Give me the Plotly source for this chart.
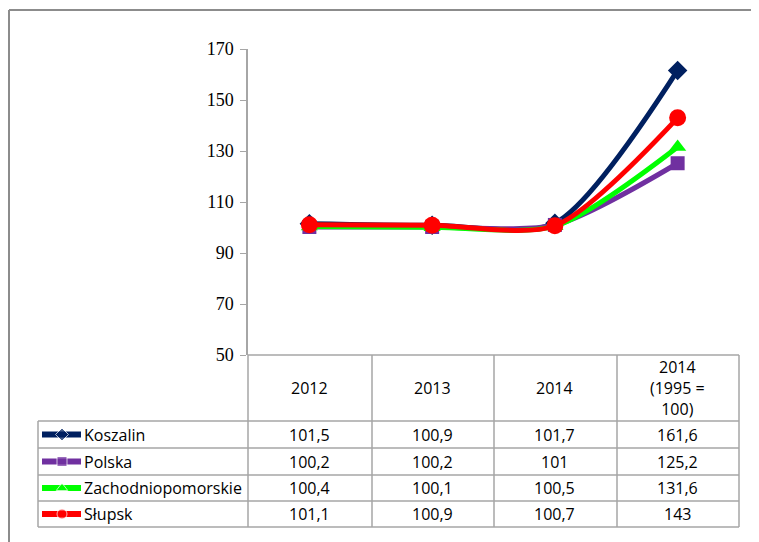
import plotly.graph_objects as go

categories = ["2012", "2013", "2014", "2014<br>(1995 =<br>100)"]
series_names = ["Koszalin", "Polska", "Zachodniopomorskie", "Słupsk"]
koszalin = [101.5, 100.9, 101.7, 161.6]
polska = [100.2, 100.2, 101.0, 125.2]
zachodniopomorskie = [100.4, 100.1, 100.5, 131.6]
slupsk = [101.1, 100.9, 100.7, 143.0]
y_ticks = [50, 70, 90, 110, 130, 150, 170]

values = [koszalin, polska, zachodniopomorskie, slupsk]
colors = ["#002060", "#7030A0", "#00FF00", "#FF0000"]
symbols = ["diamond", "square", "triangle-up", "circle"]
msizes = [15, 14, 15, 17]

OFF = 8                    # page body margin
W, H = 759 - OFF, 542 - OFF
X0, X1 = 248, 739          # plot area / table columns (window pixels)
Y_TOP, Y_AX = 49, 355      # y=170 and y=50 pixels
row_edges = [421, 448, 475, 501, 527]
col_edges = [248, 372, 494, 617, 739]
LEG_L = 38

def px(x):
    return (x - OFF) / W

def py(y):
    return 1 - (y - OFF) / H

fig = go.Figure()
xs = list(range(len(categories)))
for name, vals, c, s, ms in zip(series_names, values, colors, symbols, msizes):
    fig.add_trace(go.Scatter(
        x=xs, y=vals, name=name, mode="lines+markers",
        line=dict(color=c, width=5, shape="spline", smoothing=0.75),
        marker=dict(color=c, symbol=s, size=ms),
        showlegend=False, cliponaxis=False,
    ))

# legend samples inside the table (full-figure pixel axes)
for i, (c, s) in enumerate(zip(colors, symbols)):
    yc = (row_edges[i] + row_edges[i + 1]) / 2
    fig.add_trace(go.Scatter(
        x=[42 - OFF, 62 - OFF, 81 - OFF], y=[yc - OFF] * 3, mode="lines+markers",
        line=dict(color=c, width=6), marker=dict(color=c, symbol=s, size=[0, 10, 0]),
        xaxis="x2", yaxis="y2", showlegend=False, hoverinfo="skip",
    ))

shapes = []
grey = "#a6a6a6"
# outer frame
shapes.append(dict(type="line", xref="paper", yref="paper", x0=px(9), x1=px(759), y0=py(10), y1=py(10),
                   line=dict(color="#8c8c8c", width=2)))
shapes.append(dict(type="line", xref="paper", yref="paper", x0=px(9), x1=px(9), y0=py(10), y1=py(542),
                   line=dict(color="#8c8c8c", width=2)))
# table horizontal lines
shapes.append(dict(type="line", xref="paper", yref="paper", x0=px(X0), x1=px(X1), y0=py(Y_AX), y1=py(Y_AX),
                   line=dict(color=grey, width=1.5)))
for r in row_edges:
    shapes.append(dict(type="line", xref="paper", yref="paper", x0=px(LEG_L), x1=px(X1), y0=py(r), y1=py(r),
                       line=dict(color=grey, width=1.5)))
# table vertical lines
for cx in col_edges:
    shapes.append(dict(type="line", xref="paper", yref="paper", x0=px(cx), x1=px(cx), y0=py(Y_AX), y1=py(row_edges[-1]),
                       line=dict(color=grey, width=1.5)))
shapes.append(dict(type="line", xref="paper", yref="paper", x0=px(LEG_L), x1=px(LEG_L), y0=py(row_edges[0]), y1=py(row_edges[-1]),
                   line=dict(color=grey, width=1.5)))

annotations = []
tfont = dict(family="Open Sans", size=16, color="#000000")
hdr_y = (Y_AX + row_edges[0]) / 2
for i, cat in enumerate(categories):
    annotations.append(dict(x=i, xref="x", y=py(hdr_y), yref="paper", text=cat, showarrow=False,
                            font=tfont, xanchor="center", yanchor="middle"))

def fmt(v):
    return f"{v:g}".replace(".", ",")

for r, (name, vals) in enumerate(zip(series_names, values)):
    yc = (row_edges[r] + row_edges[r + 1]) / 2
    annotations.append(dict(x=px(82), xref="paper", y=py(yc), yref="paper", text=name, showarrow=False,
                            font=tfont, xanchor="left", yanchor="middle"))
    for i, v in enumerate(vals):
        annotations.append(dict(x=i, xref="x", y=py(yc), yref="paper", text=fmt(v), showarrow=False,
                                font=tfont, xanchor="center", yanchor="middle"))

fig.update_layout(
    width=W, height=H,
    margin=dict(l=0, r=0, t=0, b=0, pad=0, autoexpand=False),
    paper_bgcolor="white", plot_bgcolor="rgba(0,0,0,0)",
    showlegend=False,
    xaxis=dict(domain=[px(X0), px(X1)], range=[-0.5, 3.5], showticklabels=False, showgrid=False,
               zeroline=False, showline=False, ticks="", fixedrange=True),
    yaxis=dict(domain=[py(Y_AX), py(Y_TOP)], range=[50, 170], tickvals=y_ticks, showgrid=False,
               zeroline=False, showline=True, linecolor=grey, linewidth=1.5, ticks="outside",
               ticklen=6, tickcolor=grey, ticklabelstandoff=3, automargin=False,
               tickfont=dict(family="Liberation Serif", size=18, color="#000000")),
    xaxis2=dict(domain=[0, 1], range=[0, W], visible=False, anchor="y2", fixedrange=True),
    yaxis2=dict(domain=[0, 1], range=[H, 0], visible=False, anchor="x2", fixedrange=True),
    shapes=shapes,
    annotations=annotations,
)

fig.write_html("out.html", config={"displayModeBar": False})
